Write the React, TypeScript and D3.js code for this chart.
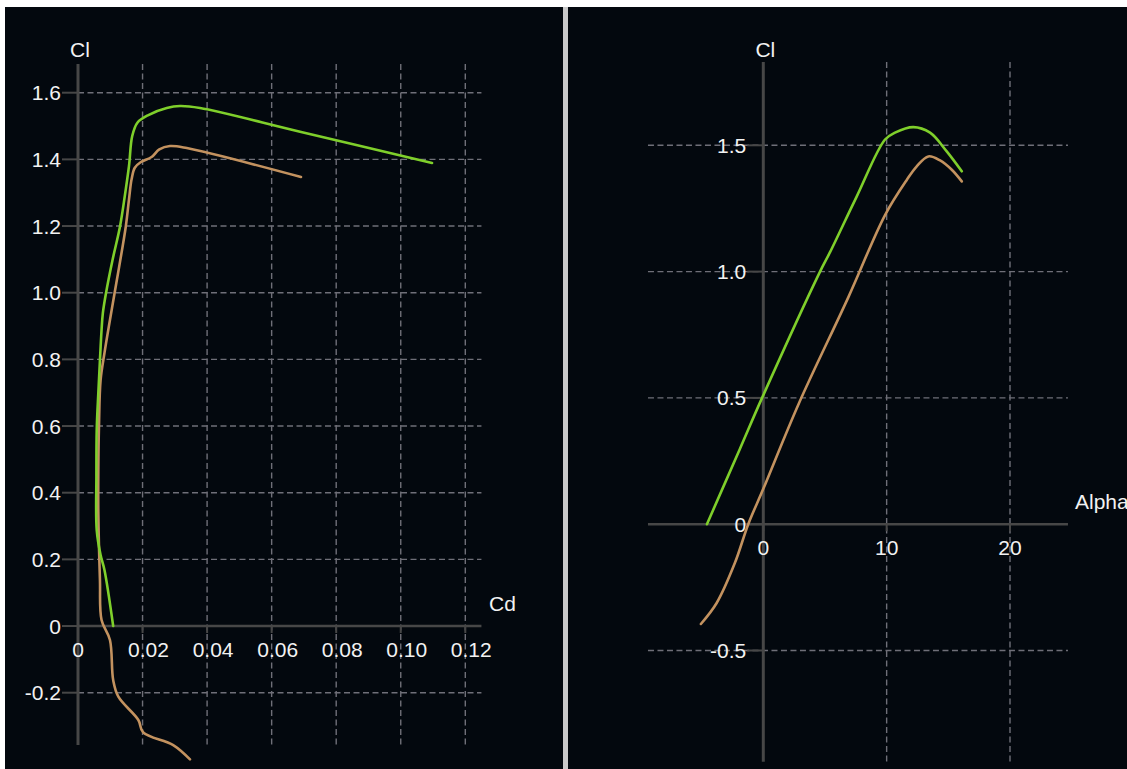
import React from "react";
import * as d3 from "d3";

// ---- data ----
const cdTicks = [0, 0.02, 0.04, 0.06, 0.08, 0.1, 0.12];
const cdTickLabels = ["0", "0.02", "0.04", "0.06", "0.08", "0.10", "0.12"];
const clTicksLeft = [-0.2, 0, 0.2, 0.4, 0.6, 0.8, 1.0, 1.2, 1.4, 1.6];
const clTickLabelsLeft = ["-0.2", "0", "0.2", "0.4", "0.6", "0.8", "1.0", "1.2", "1.4", "1.6"];
const alphaTicks = [0, 10, 20];
const alphaTickLabels = ["0", "10", "20"];
const clTicksRight = [-0.5, 0, 0.5, 1.0, 1.5];
const clTickLabelsRight = ["-0.5", "0", "0.5", "1.0", "1.5"];

// polar: [Cd, Cl]
const polarGreen: [number, number][] = [
  [0.0109, 0], [0.0082, 0.168], [0.007, 0.213], [0.0058, 0.288], [0.0057, 0.45],
  [0.0058, 0.588], [0.0063, 0.7], [0.0068, 0.798], [0.0073, 0.888], [0.0077, 0.939],
  [0.0087, 1.0], [0.0107, 1.098], [0.013, 1.198], [0.0145, 1.29], [0.0158, 1.38],
  [0.0168, 1.47], [0.0184, 1.51], [0.0218, 1.533], [0.0275, 1.554], [0.0316, 1.56],
  [0.0378, 1.554], [0.0688, 1.483], [0.1097, 1.389],
];
const polarBrown: [number, number][] = [
  [0.0347, -0.4], [0.0295, -0.357], [0.0202, -0.319], [0.0187, -0.282], [0.0125, -0.212],
  [0.0109, -0.162], [0.0099, -0.042], [0.0073, 0.018], [0.0068, 0.138], [0.0063, 0.339],
  [0.0063, 0.468], [0.0065, 0.6], [0.007, 0.738], [0.0082, 0.819], [0.0099, 0.918],
  [0.0115, 1.008], [0.0148, 1.198], [0.0158, 1.28], [0.0166, 1.34], [0.0176, 1.375],
  [0.0195, 1.392], [0.0228, 1.407], [0.0252, 1.43], [0.0285, 1.44], [0.0337, 1.434],
  [0.0691, 1.347],
];
// lift curve: [alpha, Cl]
const liftGreen: [number, number][] = [
  [-4.57, 0], [-1.89, 0.299], [-0.1, 0.5], [4.6, 1.0], [5.41, 1.077], [7.57, 1.297],
  [9.87, 1.523], [10.68, 1.55], [12.16, 1.572], [13.52, 1.55], [14.87, 1.476], [16.09, 1.397],
];
const liftBrown: [number, number][] = [
  [-5.06, -0.395], [-3.78, -0.312], [-2.3, -0.153], [-1.22, 0], [0, 0.14], [2.9, 0.48],
  [6.89, 0.898], [9.87, 1.224], [11.63, 1.363], [12.44, 1.417],
  [13.38, 1.456], [14.33, 1.44], [15.28, 1.403], [16.09, 1.357],
];
// axis extents (data units)
const cdExtent = [0, 0.125];
const clExtentLeft = [-0.357, 1.686];
const alphaExtent = [-9.35, 24.7];
const clExtentRight = [-0.94, 1.83];

const GREEN = "#7fcf2b";
const BROWN = "#c3925f";
const AXIS = "#474747";
const GRID = "#6f6f78";
const TEXT = "#f2f2f2";
const FONT = "'Liberation Sans', Arial, Helvetica, sans-serif";

export default function App() {
  // left panel scales
  const xL = d3.scaleLinear().domain([0, 0.12]).range([78, 465.3]);
  const yL = d3.scaleLinear().domain([-0.2, 1.6]).range([692.7, 92.7]);
  // right panel scales
  const xR = d3.scaleLinear().domain([0, 20]).range([763.3, 1010]);
  const yR = d3.scaleLinear().domain([-0.5, 1.5]).range([650.5, 145.3]);

  const lineL = d3.line<[number, number]>().x((d) => xL(d[0])).y((d) => yL(d[1])).curve(d3.curveCatmullRom.alpha(0.5));
  const lineR = d3.line<[number, number]>().x((d) => xR(d[0])).y((d) => yR(d[1])).curve(d3.curveCatmullRom.alpha(0.5));

  const dash = "6 3.5";

  return (
    <svg
      width={1127}
      height={769}
      style={{ position: "absolute", left: 0, top: 0, display: "block" }}
      fontFamily={FONT}
    >
      <rect x={0} y={0} width={1127} height={769} fill="#ffffff" />
      <rect x={5} y={7} width={558} height={762} fill="#03080e" />
      <rect x={563} y={7} width={5} height={762} fill="#c9c9c9" />
      <rect x={568} y={7} width={559} height={762} fill="#03080e" />

      {/* ---------- LEFT PANEL ---------- */}
      <g>
        {cdTicks.filter((t) => t !== 0).map((t) => (
          <line key={"lvg" + t} x1={xL(t)} x2={xL(t)} y1={yL(clExtentLeft[1])} y2={yL(clExtentLeft[0])}
            stroke={GRID} strokeWidth={1.4} strokeDasharray={dash} />
        ))}
        {clTicksLeft.filter((t) => t !== 0).map((t) => (
          <line key={"lhg" + t} x1={xL(0)} x2={xL(cdExtent[1])} y1={yL(t)} y2={yL(t)}
            stroke={GRID} strokeWidth={1.4} strokeDasharray={dash} />
        ))}
        <line x1={xL(0)} x2={xL(0)} y1={yL(clExtentLeft[1])} y2={yL(clExtentLeft[0])} stroke={AXIS} strokeWidth={3} />
        <line x1={xL(0)} x2={xL(cdExtent[1])} y1={yL(0)} y2={yL(0)} stroke={AXIS} strokeWidth={2.6} />
        {clTicksLeft.map((t, i) => (
          <g key={"lyt" + t}>
            <line x1={xL(0) - 16} x2={xL(0)} y1={yL(t)} y2={yL(t)} stroke={AXIS} strokeWidth={2} />
            <text x={xL(0) - 17} y={yL(t)} dy="0.36em" textAnchor="end" fontSize={21} fill={TEXT}>
              {clTickLabelsLeft[i]}
            </text>
          </g>
        ))}
        {cdTicks.map((t, i) => (
          <g key={"lxt" + t}>
            <line x1={xL(t)} x2={xL(t)} y1={yL(0)} y2={yL(0) + 7} stroke={AXIS} strokeWidth={2} />
            <text x={xL(t) + (t === 0 ? 0 : 6)} y={yL(0) + 31} textAnchor="middle" fontSize={21} fill={TEXT}>
              {cdTickLabels[i]}
            </text>
          </g>
        ))}
        <text x={xL(0) + 2} y={57} textAnchor="middle" fontSize={21} fill={TEXT}>Cl</text>
        <text x={489} y={611} textAnchor="start" fontSize={21} fill={TEXT}>Cd</text>
        <path d={lineL(polarBrown) || ""} fill="none" stroke={BROWN} strokeWidth={2.6} strokeLinejoin="round" strokeLinecap="round" />
        <path d={lineL(polarGreen) || ""} fill="none" stroke={GREEN} strokeWidth={2.6} strokeLinejoin="round" strokeLinecap="round" />
      </g>

      {/* ---------- RIGHT PANEL ---------- */}
      <g>
        {alphaTicks.filter((t) => t !== 0).map((t) => (
          <line key={"rvg" + t} x1={xR(t)} x2={xR(t)} y1={yR(clExtentRight[1])} y2={yR(clExtentRight[0])}
            stroke={GRID} strokeWidth={1.4} strokeDasharray={dash} />
        ))}
        {clTicksRight.filter((t) => t !== 0).map((t) => (
          <line key={"rhg" + t} x1={xR(alphaExtent[0])} x2={xR(alphaExtent[1])} y1={yR(t)} y2={yR(t)}
            stroke={GRID} strokeWidth={1.4} strokeDasharray={dash} />
        ))}
        <line x1={xR(0)} x2={xR(0)} y1={yR(clExtentRight[1])} y2={yR(clExtentRight[0])} stroke={AXIS} strokeWidth={3} />
        <line x1={xR(alphaExtent[0])} x2={xR(alphaExtent[1])} y1={yR(0)} y2={yR(0)} stroke={AXIS} strokeWidth={2.6} />
        {clTicksRight.map((t, i) => (
          <g key={"ryt" + t}>
            <line x1={xR(0) - 16} x2={xR(0)} y1={yR(t)} y2={yR(t)} stroke={AXIS} strokeWidth={2} />
            <text x={xR(0) - 17} y={yR(t)} dy="0.36em" textAnchor="end" fontSize={21} fill={TEXT}>
              {clTickLabelsRight[i]}
            </text>
          </g>
        ))}
        {alphaTicks.map((t, i) => (
          <g key={"rxt" + t}>
            <line x1={xR(t)} x2={xR(t)} y1={yR(0)} y2={yR(0) + 7} stroke={AXIS} strokeWidth={2} />
            <text x={xR(t)} y={yR(0) + 31} textAnchor="middle" fontSize={21} fill={TEXT}>
              {alphaTickLabels[i]}
            </text>
          </g>
        ))}
        <text x={xR(0) + 2} y={57} textAnchor="middle" fontSize={21} fill={TEXT}>Cl</text>
        <text x={1075} y={509} textAnchor="start" fontSize={21} fill={TEXT}>Alpha</text>
        <path d={lineR(liftBrown) || ""} fill="none" stroke={BROWN} strokeWidth={2.6} strokeLinejoin="round" strokeLinecap="round" />
        <path d={lineR(liftGreen) || ""} fill="none" stroke={GREEN} strokeWidth={2.6} strokeLinejoin="round" strokeLinecap="round" />
      </g>
    </svg>
  );
}
